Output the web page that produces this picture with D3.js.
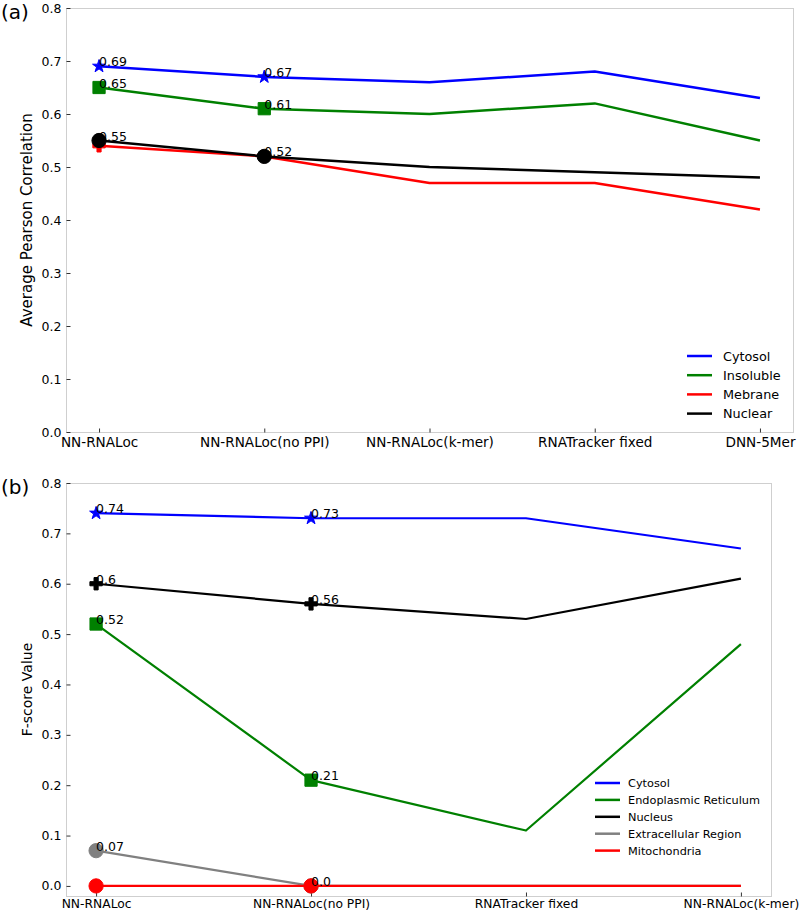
<!DOCTYPE html>
<html>
<head>
<meta charset="utf-8">
<script src="https://cdn.jsdelivr.net/npm/d3@7/dist/d3.min.js"></script>
<style>
  html, body { margin: 0; padding: 0; background: #fff; }
  svg { display: block; font-family: "DejaVu Sans", sans-serif; }
</style>
</head>
<body>
<svg id="chart" width="800" height="914"></svg>
<script>
// ---------- Panel (a) data ----------
const topCategories = ["NN-RNALoc", "NN-RNALoc(no PPI)", "NN-RNALoc(k-mer)", "RNATracker fixed", "DNN-5Mer"];
const topNames = ["Cytosol", "Insoluble", "Mebrane", "Nuclear"];
const topColors = ["#0000ff", "#008000", "#ff0000", "#000000"];
const topMarkers = ["star", "square", "cross", "circle"];
const topCytosol = [0.69, 0.67, 0.66, 0.68, 0.63];
const topInsoluble = [0.65, 0.61, 0.60, 0.62, 0.55];
const topMembrane = [0.54, 0.52, 0.47, 0.47, 0.42];
const topNuclear = [0.55, 0.52, 0.50, 0.49, 0.48];
const topLabelled = [true, true, false, true];   // value labels on the marked points
const topYTicks = [0.0, 0.1, 0.2, 0.3, 0.4, 0.5, 0.6, 0.7, 0.8];

// ---------- Panel (b) data ----------
const botCategories = ["NN-RNALoc", "NN-RNALoc(no PPI)", "RNATracker fixed", "NN-RNALoc(k-mer)"];
const botNames = ["Cytosol", "Endoplasmic Reticulum", "Nucleus", "Extracellular Region", "Mitochondria"];
const botColors = ["#0000ff", "#008000", "#000000", "#808080", "#ff0000"];
const botMarkers = ["star", "square", "cross", "circle", "circle"];
const botCytosol = [0.74, 0.73, 0.73, 0.67];
const botER = [0.52, 0.21, 0.11, 0.48];
const botNucleus = [0.60, 0.56, 0.53, 0.61];
const botExtra = [0.07, 0.0, 0.0, 0.0];
const botMito = [0.0, 0.0, 0.0, 0.0];
const botLabelled = [true, true, true, true, false];
const botYTicks = [0.0, 0.1, 0.2, 0.3, 0.4, 0.5, 0.6, 0.7, 0.8];
const markedPoints = 2; // markers drawn on the first two methods

const svg = d3.select("#chart");

const symbolTypes = { star: d3.symbolStar, square: d3.symbolSquare, cross: d3.symbolCross, circle: d3.symbolCircle };
const symbolSizes = { star: 52, square: 150, cross: 85, circle: 160 };
const fmt = v => { const s = String(v); return s.includes(".") ? s : s + ".0"; };

function panel(cfg) {
  const g = svg.append("g");
  const x = d3.scaleLinear().domain(cfg.xDomain).range([cfg.left, cfg.right]);
  const y = d3.scaleLinear().domain(cfg.yDomain).range([cfg.bottom, cfg.top]);

  // frame
  g.append("rect")
    .attr("x", cfg.left + 0.5).attr("y", cfg.top + 0.5)
    .attr("width", cfg.right - cfg.left).attr("height", cfg.bottom - cfg.top)
    .attr("fill", "none").attr("stroke", "#cfcfcf").attr("stroke-width", 1);

  // y axis
  const ya = g.append("g").attr("transform", `translate(${cfg.left + 0.5},0)`)
    .call(d3.axisLeft(y).tickValues(cfg.yTicks).tickFormat(d3.format(".1f")).tickSize(-4).tickPadding(5));
  ya.select(".domain").remove();
  ya.selectAll(".tick line").attr("stroke", "#333");
  ya.selectAll(".tick text").attr("font-size", cfg.yTickFont).attr("fill", "#000")
    .attr("font-family", "DejaVu Sans");

  // x axis
  const xa = g.append("g").attr("transform", `translate(0,${cfg.bottom + 0.5})`)
    .call(d3.axisBottom(x).tickValues(d3.range(cfg.categories.length))
      .tickFormat(i => cfg.categories[i]).tickSize(-4).tickPadding(cfg.xTickPad));
  xa.select(".domain").remove();
  xa.selectAll(".tick line").attr("stroke", "#333");
  xa.selectAll(".tick text").attr("font-size", cfg.xTickFont).attr("fill", "#000")
    .attr("font-family", "DejaVu Sans");

  // y label
  g.append("text")
    .attr("transform", `translate(${cfg.yLabelX},${(cfg.top + cfg.bottom) / 2}) rotate(-90)`)
    .attr("text-anchor", "middle").attr("font-size", cfg.yLabelFont).text(cfg.yLabel);

  // panel tag
  g.append("text").attr("x", 1).attr("y", cfg.tagY).attr("font-size", 20).text(cfg.tag);

  const line = d3.line().x((d, i) => x(i)).y(d => y(d));
  const labels = g.append("g");
  cfg.series.forEach((vals, si) => {
    g.append("path").datum(vals)
      .attr("d", line).attr("fill", "none")
      .attr("stroke", cfg.colors[si]).attr("stroke-width", cfg.lineWidth)
      .attr("stroke-linejoin", "round");
    const m = cfg.markers[si];
    g.selectAll(null).data(vals.slice(0, markedPoints)).enter().append("path")
      .attr("transform", (d, i) => `translate(${x(i)},${y(d)})`)
      .attr("d", d3.symbol().type(symbolTypes[m]).size(symbolSizes[m]))
      .attr("fill", cfg.colors[si]).attr("stroke", cfg.colors[si]).attr("stroke-width", 1);
    if (cfg.labelled[si]) {
      labels.selectAll(null).data(vals.slice(0, markedPoints)).enter().append("text")
        .attr("x", (d, i) => x(i)).attr("y", d => y(d))
        .attr("font-size", 12.5).text(d => fmt(d));
    }
  });
  labels.raise();

  // legend
  const lg = g.append("g");
  cfg.names.forEach((n, i) => {
    const yy = cfg.legendY + i * cfg.legendStep;
    lg.append("line").attr("x1", cfg.legendX).attr("x2", cfg.legendX + 25)
      .attr("y1", yy).attr("y2", yy).attr("stroke", cfg.colors[i]).attr("stroke-width", 2.5);
    lg.append("text").attr("x", cfg.legendX + cfg.legendTextGap).attr("y", yy).attr("dy", "0.36em")
      .attr("font-size", cfg.legendFont).text(n);
  });
}

panel({
  categories: topCategories, names: topNames, colors: topColors, markers: topMarkers,
  series: [topCytosol, topInsoluble, topMembrane, topNuclear], labelled: topLabelled,
  yTicks: topYTicks, xDomain: [-0.2, 4.2], yDomain: [0, 0.8],
  left: 66, right: 793, top: 8, bottom: 432, lineWidth: 2.5,
  yTickFont: 12.5, xTickFont: 13.6, xTickPad: 5,
  yLabel: "Average Pearson Correlation", yLabelFont: 15, yLabelX: 32,
  tag: "(a)", tagY: 19,
  legendX: 687, legendY: 356, legendStep: 19.2, legendFont: 12.8, legendTextGap: 36
});

panel({
  categories: botCategories, names: botNames, colors: botColors, markers: botMarkers,
  series: [botCytosol, botER, botNucleus, botExtra, botMito], labelled: botLabelled,
  yTicks: botYTicks, xDomain: [-0.14, 3.14], yDomain: [-0.02, 0.8],
  left: 66, right: 771, top: 483, bottom: 896, lineWidth: 2.2,
  yTickFont: 12.5, xTickFont: 12.3, xTickPad: 3,
  yLabel: "F-score Value", yLabelFont: 14, yLabelX: 32,
  tag: "(b)", tagY: 494,
  legendX: 595, legendY: 783, legendStep: 16.9, legendFont: 11.3, legendTextGap: 33
});
</script>
</body>
</html>
